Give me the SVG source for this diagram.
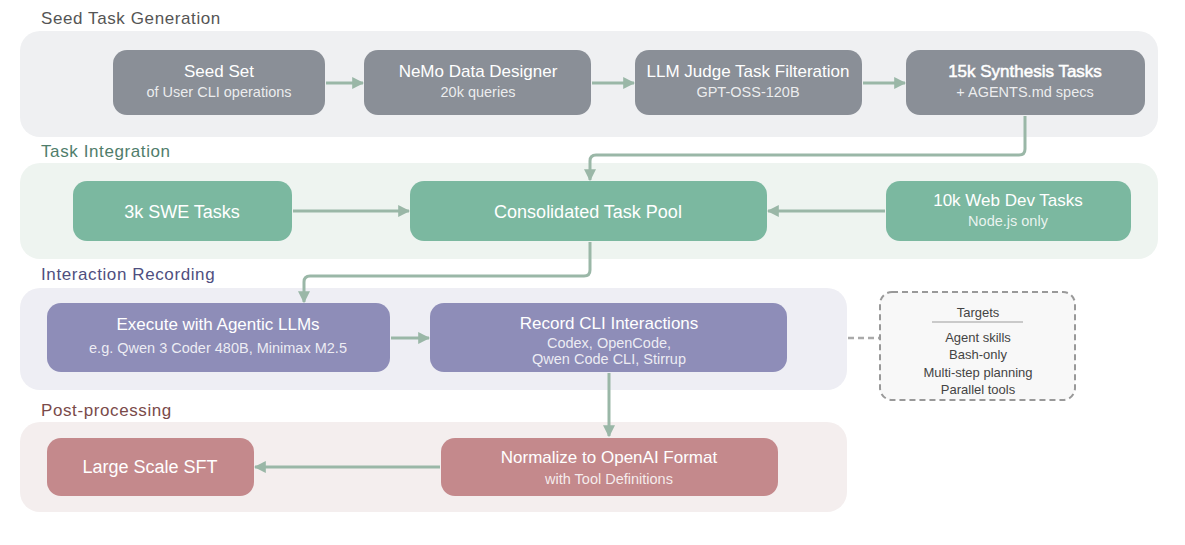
<svg xmlns="http://www.w3.org/2000/svg" width="1185" height="545" viewBox="0 0 1185 545">
<defs>
<style>
text{font-family:"Liberation Sans",Arial,sans-serif;text-anchor:middle}
.sec{font-size:17px;letter-spacing:0.6px;text-anchor:start}
.t{fill:#fff;font-size:17px}
.t1{fill:#fff;font-size:18px}
.s{fill:#fff;fill-opacity:0.85;font-size:14.5px}
.c{fill:none;stroke:#9ab7a7;stroke-width:3;marker-end:url(#ah)}
.gray{fill:#8a8f97}
.green{fill:#7bb8a0}
.purple{fill:#8e8db8}
.red{fill:#c4898c}
.tg{fill:#444;font-size:13px}
</style>
<marker id="ah" viewBox="0 0 10 10" refX="9" refY="5" markerWidth="4" markerHeight="4" orient="auto-start-reverse" markerUnits="strokeWidth">
<path d="M0,0 L10,5 L0,10 z" fill="#9ab7a7"/>
</marker>
</defs>
<rect width="1185" height="545" fill="#fff"/>

<g id="sections">
<rect x="20" y="31" width="1138" height="106" rx="20" fill="#eff0f2"/>
<text class="sec" x="41" y="24" fill="#555">Seed Task Generation</text>
<rect x="20" y="163" width="1138" height="96" rx="20" fill="#eef4f0"/>
<text class="sec" x="41" y="157" fill="#4f7d6b">Task Integration</text>
<rect x="20" y="288" width="827" height="102" rx="20" fill="#eeeef4"/>
<text class="sec" x="41" y="280" fill="#4f4f7f">Interaction Recording</text>
<rect x="20" y="422" width="827" height="90" rx="20" fill="#f4eeee"/>
<text class="sec" x="41" y="416" fill="#7a4a4a">Post-processing</text>
</g>

<g id="connectors">
<line class="c" x1="326" y1="83" x2="363" y2="83"/>
<line class="c" x1="592" y1="83" x2="634" y2="83"/>
<line class="c" x1="863" y1="83" x2="905" y2="83"/>
<path class="c" d="M1025,116 V149 Q1025,155 1019,155 H596 Q590,155 590,161 V180"/>
<line class="c" x1="293" y1="211" x2="409" y2="211"/>
<line class="c" x1="885" y1="211" x2="768" y2="211"/>
<path class="c" d="M590,242 V270 Q590,276 584,276 H310 Q304,276 304,282 V302"/>
<line class="c" x1="391" y1="338" x2="429" y2="338"/>
<line x1="848" y1="338" x2="880" y2="338" stroke="#aaa" stroke-width="2.5" stroke-dasharray="6,4"/>
<line class="c" x1="609" y1="373" x2="609" y2="436"/>
<line class="c" x1="440" y1="467" x2="255" y2="467"/>
</g>

<g id="seed-set">
<rect class="gray" x="113" y="50" width="212" height="65" rx="14"/>
<text class="t" x="219" y="77">Seed Set</text>
<text class="s" x="219" y="97">of User CLI operations</text>
</g>
<g id="nemo">
<rect class="gray" x="364" y="50" width="227" height="65" rx="14"/>
<text class="t" x="478" y="77">NeMo Data Designer</text>
<text class="s" x="478" y="97">20k queries</text>
</g>
<g id="judge">
<rect class="gray" x="635" y="50" width="227" height="65" rx="14"/>
<text class="t" x="748" y="77">LLM Judge Task Filteration</text>
<text class="s" x="748" y="97">GPT-OSS-120B</text>
</g>
<g id="synth">
<rect class="gray" x="906" y="50" width="239" height="65" rx="14"/>
<text class="t" x="1025" y="77" stroke="#fff" stroke-width="0.5">15k Synthesis Tasks</text>
<text class="s" x="1025" y="97">+ AGENTS.md specs</text>
</g>

<g id="swe">
<rect class="green" x="73" y="181" width="219" height="60" rx="14"/>
<text class="t1" x="182" y="218">3k SWE Tasks</text>
</g>
<g id="pool">
<rect class="green" x="410" y="181" width="357" height="60" rx="14"/>
<text class="t1" x="588" y="218">Consolidated Task Pool</text>
</g>
<g id="webdev">
<rect class="green" x="886" y="181" width="245" height="60" rx="14"/>
<text class="t" x="1008" y="206">10k Web Dev Tasks</text>
<text class="s" x="1008" y="226">Node.js only</text>
</g>

<g id="execute">
<rect class="purple" x="47" y="303" width="343" height="69" rx="14"/>
<text class="t" x="218" y="330">Execute with Agentic LLMs</text>
<text class="s" x="218" y="353" font-size="13.5px">e.g. Qwen 3 Coder 480B, Minimax M2.5</text>
</g>
<g id="record">
<rect class="purple" x="430" y="303" width="357" height="69" rx="14"/>
<text class="t" x="609" y="329">Record CLI Interactions</text>
<text class="s" x="609" y="348" font-size="13.5px">Codex, OpenCode,</text>
<text class="s" x="609" y="364" font-size="13.5px">Qwen Code CLI, Stirrup</text>
</g>

<g id="targets">
<rect x="880" y="292" width="195" height="108" rx="12" fill="#f8f8f8" stroke="#999" stroke-width="2" stroke-dasharray="6,4"/>
<text class="tg" x="978" y="317">Targets</text>
<line x1="932" y1="322" x2="1023" y2="322" stroke="#bbb" stroke-width="1.5"/>
<text class="tg" x="978" y="342">Agent skills</text>
<text class="tg" x="978" y="359">Bash-only</text>
<text class="tg" x="978" y="377">Multi-step planning</text>
<text class="tg" x="978" y="394">Parallel tools</text>
</g>

<g id="sft">
<rect class="red" x="47" y="438" width="207" height="58" rx="14"/>
<text class="t1" x="150" y="473">Large Scale SFT</text>
</g>
<g id="normalize">
<rect class="red" x="441" y="438" width="337" height="58" rx="14"/>
<text class="t" x="609" y="463">Normalize to OpenAI Format</text>
<text class="s" x="609" y="484">with Tool Definitions</text>
</g>
</svg>
